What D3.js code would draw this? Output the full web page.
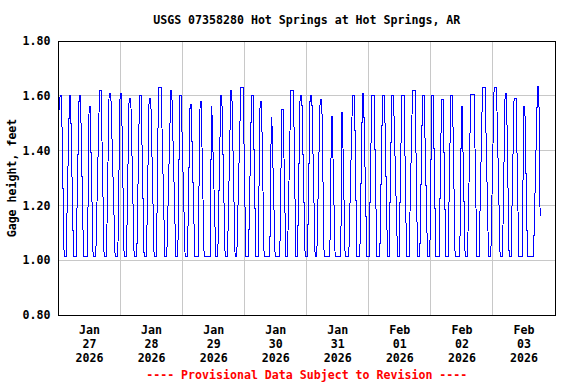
<!DOCTYPE html>
<html>
<head>
<meta charset="utf-8">
<script src="https://cdn.jsdelivr.net/npm/d3@7"></script>
<style>
  body { margin: 0; background: #fff; }
  text { font-family: "DejaVu Sans Mono", monospace; font-weight: bold; font-size: 11.6px; }
</style>
</head>
<body>
<div class="chart"></div>
<script>
const title = 'USGS 07358280 Hot Springs at Hot Springs, AR';
const yLabel = 'Gage height, feet';
const footer = '---- Provisional Data Subject to Revision ----';
const startDate = new Date(2026, 0, 27);
const endDate = new Date(2026, 1, 4);
const yTicks = [0.8, 1.0, 1.2, 1.4, 1.6, 1.8];

// one entry per pumping cycle, hours after Jan 27 00:00
const riseAt = [0.25, 2.94, 6.81, 11.21, 14.42, 18.56, 22.93, 26.30, 30.28, 34.03, 37.90, 41.88,
    46.14, 49.89, 53.99, 58.63, 61.60, 65.36, 68.95, 73.48, 77.19, 81.71, 85.58, 88.56,
    92.43, 96.29, 99.89, 104.92, 109.17, 112.26, 116.52, 120.12, 124.25, 127.85, 131.72, 135.58,
    139.72, 143.59, 147.19, 150.66, 155.18, 158.17, 162.65, 167.18, 171.70, 175.01, 179.30, 183.70];
const peakFrom = [0.62, 4.25, 7.97, 11.83, 15.86, 19.57, 23.82, 27.30, 31.32, 35.04, 38.67, 43.43,
    46.91, 50.89, 54.76, 59.17, 62.76, 66.63, 70.50, 74.64, 77.96, 82.29, 86.36, 89.84,
    93.43, 97.30, 101.17, 105.58, 109.56, 113.69, 117.56, 121.16, 125.30, 128.89, 132.76, 136.90,
    140.77, 144.36, 148.12, 151.71, 155.84, 159.44, 163.97, 168.45, 172.71, 176.17, 179.95, 185.24];
const peakTo = [1.16, 4.64, 8.51, 12.22, 16.47, 20.23, 24.36, 27.96, 31.94, 35.69, 39.68, 43.81,
    47.41, 51.28, 55.15, 59.28, 63.15, 67.02, 71.39, 75.26, 78.50, 82.49, 86.86, 90.88,
    94.09, 97.96, 101.82, 105.81, 109.75, 114.47, 117.95, 122.05, 126.07, 129.55, 133.65, 137.90,
    141.39, 144.87, 148.73, 152.37, 156.08, 160.72, 164.97, 169.38, 173.25, 176.95, 180.34, 185.74];
const lowAt = [2.17, 5.80, 9.67, 13.38, 17.63, 21.89, 25.37, 29.24, 33.10, 36.97, 41.11, 45.36,
    48.96, 52.71, 56.31, 60.83, 64.43, 68.29, 72.43, 76.30, 79.51, 83.76, 87.90, 91.77,
    95.37, 99.23, 102.71, 106.97, 110.84, 115.36, 119.23, 123.09, 127.23, 131.10, 134.58, 138.83,
    142.70, 145.91, 149.78, 153.37, 157.24, 161.76, 166.29, 170.77, 174.25, 177.99, 181.35, 186.24];
const peakLevel = [1.60, 1.60, 1.60, 1.56, 1.62, 1.61, 1.61, 1.59, 1.60, 1.59, 1.63, 1.62,
    1.60, 1.57, 1.58, 1.56, 1.60, 1.62, 1.63, 1.60, 1.58, 1.52, 1.55, 1.62,
    1.60, 1.60, 1.585, 1.525, 1.54, 1.60, 1.61, 1.60, 1.60, 1.60, 1.60, 1.62,
    1.60, 1.60, 1.585, 1.60, 1.56, 1.605, 1.63, 1.63, 1.61, 1.59, 1.56, 1.635];
const lowLevel = 1.015;
const firstLevel = 1.55;
const lastLevel = 1.16;

const svgSize = { width: 576, height: 384 };
const margin = { top: 41, right: 21, bottom: 69, left: 58.5 };
const width  = svgSize.width  - margin.left - margin.right;
const height = svgSize.height - margin.top  - margin.bottom;

const svg = d3.select('.chart')
    .append('svg')
    .attr('width', svgSize.width)
    .attr('height', svgSize.height)
;

const graph = svg.append('g')
    .attr('transform', `translate(${margin.left}, ${margin.top})`)
;

const hourToDate = h => new Date(+startDate + h * 3600e3);

const points = [];
riseAt.forEach((h, i) => {
    points.push({ t: hourToDate(h), v: i === 0 ? firstLevel : lowLevel });
    points.push({ t: hourToDate(peakFrom[i]), v: peakLevel[i] });
    points.push({ t: hourToDate(peakTo[i]), v: peakLevel[i] });
    points.push({ t: hourToDate(lowAt[i]), v: i === riseAt.length - 1 ? lastLevel : lowLevel });
});

const xScale = d3.scaleTime()
    .domain([ startDate, endDate ])
    .range([ 0, width ])
;
const yScale = d3.scaleLinear()
    .domain([ 0.8, 1.8 ])
    .range([ height, 0 ])
;

// grid
const days = d3.timeDay.range(startDate, endDate);
graph.append('g')
    .selectAll('line')
    .data(days.slice(1))
    .enter()
    .append('line')
    .attr('x1', d => xScale(d))
    .attr('x2', d => xScale(d))
    .attr('y1', 0)
    .attr('y2', height)
    .attr('stroke', '#c8c8c8')
    .attr('shape-rendering', 'crispEdges')
;
graph.append('g')
    .selectAll('line')
    .data(yTicks)
    .enter()
    .append('line')
    .attr('x1', 0)
    .attr('x2', width)
    .attr('y1', d => yScale(d))
    .attr('y2', d => yScale(d))
    .attr('stroke', '#c8c8c8')
    .attr('shape-rendering', 'crispEdges')
;

// data line
const line = d3.line()
    .x(d => xScale(d.t))
    .y(d => yScale(d.v))
;
graph.append('path')
    .datum(points)
    .attr('d', line)
    .attr('fill', 'none')
    .attr('stroke', '#0000ff')
    .attr('stroke-width', 1)
    .attr('shape-rendering', 'crispEdges')
;

// frame
graph.append('rect')
    .attr('x', 0)
    .attr('y', 0)
    .attr('width', width)
    .attr('height', height)
    .attr('fill', 'none')
    .attr('stroke', '#000')
    .attr('shape-rendering', 'crispEdges')
;

// y axis
const yAxis = d3.axisLeft(yScale)
    .tickValues(yTicks)
    .tickFormat(d3.format('.2f'))
    .tickSize(0)
    .tickPadding(8)
;
const yAxisGroup = graph.append('g').call(yAxis);
yAxisGroup.select('.domain').remove();
yAxisGroup.selectAll('text')
    .attr('fill', '#000')
    .style('font-family', '"DejaVu Sans Mono", monospace')
    .style('font-size', '11.6px')
;

// x labels, three lines centred at noon
const noons = days.map(d => d3.timeHour.offset(d, 12));
const xLabels = graph.append('g')
    .selectAll('text')
    .data(noons)
    .enter()
    .append('text')
    .attr('text-anchor', 'middle')
    .attr('y', height + 19)
;
[ d3.timeFormat('%b'), d3.timeFormat('%d'), d3.timeFormat('%Y') ].forEach((fmt, i) => {
    xLabels.append('tspan')
        .attr('x', d => xScale(d))
        .attr('dy', i === 0 ? 0 : 14)
        .text(d => fmt(d))
    ;
});

// titles
svg.append('text')
    .attr('x', margin.left + width / 2)
    .attr('y', 24)
    .attr('text-anchor', 'middle')
    .text(title)
;
svg.append('text')
    .attr('transform', `translate(15.5, ${margin.top + height / 2}) rotate(-90)`)
    .attr('text-anchor', 'middle')
    .text(yLabel)
;
svg.append('text')
    .attr('x', margin.left + width / 2)
    .attr('y', 379)
    .attr('text-anchor', 'middle')
    .attr('fill', '#ff0000')
    .text(footer)
;
</script>
</body>
</html>
